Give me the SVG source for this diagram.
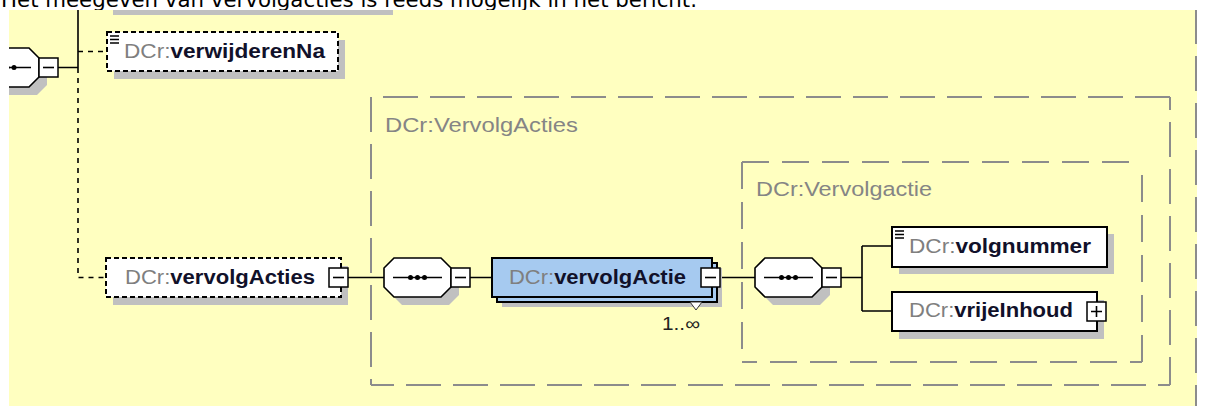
<svg xmlns="http://www.w3.org/2000/svg" width="1208" height="406" viewBox="0 0 1208 406">
<style>
.shadow{fill:#c0c0c0}
.node{fill:#fff;stroke:#000;stroke-width:2}
.opt{stroke-dasharray:5 3}
.seq{fill:#fff;stroke:#000;stroke-width:1.6}
.blue{fill:#a6caf0;stroke:#000;stroke-width:2}
.conn{fill:none;stroke:#000;stroke-width:1.6}
.dash{stroke-dasharray:5 5}
.box{fill:#fff;stroke:#000;stroke-width:1.5}
.sym{fill:none;stroke:#000;stroke-width:1.6}
.cont{fill:none;stroke:#8c8c8c;stroke-width:2;stroke-dasharray:35 12}
.cin{fill:none;stroke:#8c8c8c;stroke-width:2;stroke-dasharray:27 13}
.lbl{font-family:"Liberation Sans",Arial,sans-serif;font-size:20px}
.pre{fill:#7f7f7f}
.name{fill:#11112a;font-weight:bold}
.clbl{font-family:"Liberation Sans",Arial,sans-serif;font-size:20.5px;fill:#858585}
.icon{stroke:#000;stroke-width:1.4}
</style>
<defs>
<path id="oct" d="M10,0 H57 L67,10 V29 L57,39 H10 L0,29 V10 Z"/>
</defs>
<rect x="0" y="0" width="1208" height="406" fill="#fff"/>
<text x="1" y="7" font-family="DejaVu Sans,Verdana,sans-serif" font-size="21" textLength="696" lengthAdjust="spacingAndGlyphs" fill="#000">Het meegeven van vervolgacties is reeds mogelijk in het bericht.</text>
<rect x="9" y="10" width="1188" height="396" fill="#ffffc0"/>
<line x1="1196" y1="10" x2="1196" y2="406" stroke="#8c8c8c" stroke-width="2" stroke-dasharray="35 12" stroke-dashoffset="1"/>
<rect class="shadow" x="113" y="10" width="280" height="5"/>

<g id="container-VervolgActies">
<line class="cont" x1="1170" y1="97" x2="371" y2="97"/>
<line class="cont" x1="371" y1="97" x2="371" y2="385"/>
<line class="cont" x1="1170" y1="97" x2="1170" y2="385" stroke-dashoffset="22"/>
<line class="cont" x1="1170" y1="385" x2="371" y2="385" stroke-dashoffset="23"/>
<text class="clbl" x="385" y="132" textLength="193" lengthAdjust="spacingAndGlyphs">DCr:VervolgActies</text>
</g>
<g id="container-Vervolgactie">
<line class="cin" x1="742" y1="162" x2="1142" y2="162"/>
<line class="cin" x1="742" y1="162" x2="742" y2="362"/>
<line class="cin" x1="1142" y1="362" x2="1142" y2="162"/>
<line class="cin" x1="1142" y1="362" x2="742" y2="362" stroke-dashoffset="15"/>
<text class="clbl" x="756" y="196" textLength="176" lengthAdjust="spacingAndGlyphs">DCr:Vervolgactie</text>
</g>

<g id="connectors">
<path class="conn" d="M78,10 V68 M58,67.5 H78"/>
<path class="conn dash" d="M78,68 V277.5 H106 M78,51.5 H107"/>
<path class="conn" d="M348,277.5 H384 M470,277.5 H492 M720,277.5 H755 M841,277.5 H862 M862,246 V311 M862,246 H892 M862,311 H892"/>
</g>

<g id="seq1">
<use href="#oct" class="shadow" transform="translate(-20,56)"/>
<use href="#oct" class="seq" transform="translate(-28,48)"/>
<line x1="-20" y1="67.5" x2="31" y2="67.5" stroke="#000" stroke-width="1.6"/>
<circle cx="0" cy="67.5" r="2.5"/><circle cx="7" cy="67.5" r="2.5"/><circle cx="14" cy="67.5" r="2.5"/>
<rect class="box" x="39" y="58" width="19" height="19"/>
<line class="sym" x1="43" y1="67.5" x2="54" y2="67.5"/>
</g>
<rect x="0" y="10" width="9" height="396" fill="#fff"/>

<g id="verwijderenNa">
<rect class="shadow" x="114" y="40" width="231" height="39"/>
<rect class="node opt" x="107" y="32" width="231" height="39"/>
<path class="icon" d="M110,36 H119 M110,39.5 H119 M110,43 H119"/>
<text class="lbl" x="124" y="58" textLength="201" lengthAdjust="spacingAndGlyphs"><tspan class="pre">DCr:</tspan><tspan class="name">verwijderenNa</tspan></text>
</g>

<g id="vervolgActies">
<rect class="shadow" x="113" y="266" width="235" height="39"/>
<rect class="node opt" x="106" y="258" width="235" height="39"/>
<text class="lbl" x="125" y="284" textLength="190" lengthAdjust="spacingAndGlyphs"><tspan class="pre">DCr:</tspan><tspan class="name">vervolgActies</tspan></text>
<rect class="box" x="329" y="268" width="19" height="19"/>
<line class="sym" x1="333" y1="277.5" x2="344" y2="277.5"/>
</g>

<g id="seq2">
<use href="#oct" class="shadow" transform="translate(392,266)"/>
<use href="#oct" class="seq" transform="translate(384,258)"/>
<line x1="393" y1="277.5" x2="442" y2="277.5" stroke="#000" stroke-width="1.6"/>
<circle cx="410.5" cy="277.5" r="2.5"/><circle cx="417.5" cy="277.5" r="2.5"/><circle cx="424.5" cy="277.5" r="2.5"/>
<rect class="box" x="451" y="268" width="19" height="19"/>
<line class="sym" x1="455" y1="277.5" x2="466" y2="277.5"/>
</g>

<g id="vervolgActie">
<rect class="shadow" x="502" y="268" width="220" height="39"/>
<rect class="blue" x="497" y="263" width="220" height="39"/>
<rect class="blue" x="492" y="258" width="220" height="39"/>
<polygon points="690,302 702,302 696,310" fill="#fff" stroke="#333" stroke-width="1"/>
<text class="lbl" x="509" y="284" textLength="177" lengthAdjust="spacingAndGlyphs"><tspan class="pre">DCr:</tspan><tspan class="name">vervolgActie</tspan></text>
<rect class="box" x="701" y="268" width="19" height="19"/>
<line class="sym" x1="705" y1="277.5" x2="716" y2="277.5"/>
<text x="662" y="330" font-family="Liberation Sans,Arial,sans-serif" font-size="18" fill="#222" textLength="38" lengthAdjust="spacingAndGlyphs">1..∞</text>
</g>

<g id="seq3">
<use href="#oct" class="shadow" transform="translate(763,266)"/>
<use href="#oct" class="seq" transform="translate(755,258)"/>
<line x1="764" y1="277.5" x2="813" y2="277.5" stroke="#000" stroke-width="1.6"/>
<circle cx="781.5" cy="277.5" r="2.5"/><circle cx="788.5" cy="277.5" r="2.5"/><circle cx="795.5" cy="277.5" r="2.5"/>
<rect class="box" x="822" y="268" width="19" height="19"/>
<line class="sym" x1="826" y1="277.5" x2="837" y2="277.5"/>
</g>

<g id="volgnummer">
<rect class="shadow" x="899" y="234" width="215" height="40"/>
<rect class="node" x="892" y="227" width="215" height="40"/>
<path class="icon" d="M895,231 H904 M895,234.5 H904 M895,238 H904"/>
<text class="lbl" x="909" y="253" textLength="182" lengthAdjust="spacingAndGlyphs"><tspan class="pre">DCr:</tspan><tspan class="name">volgnummer</tspan></text>
</g>

<g id="vrijeInhoud">
<rect class="shadow" x="899" y="300" width="205" height="39"/>
<rect class="node" x="892" y="292" width="205" height="39"/>
<text class="lbl" x="909" y="317" textLength="164" lengthAdjust="spacingAndGlyphs"><tspan class="pre">DCr:</tspan><tspan class="name">vrijeInhoud</tspan></text>
<rect class="box" x="1087" y="302" width="19" height="19"/>
<path class="sym" d="M1091,311.5 H1102 M1096.5,306 V317"/>
</g>
</svg>
